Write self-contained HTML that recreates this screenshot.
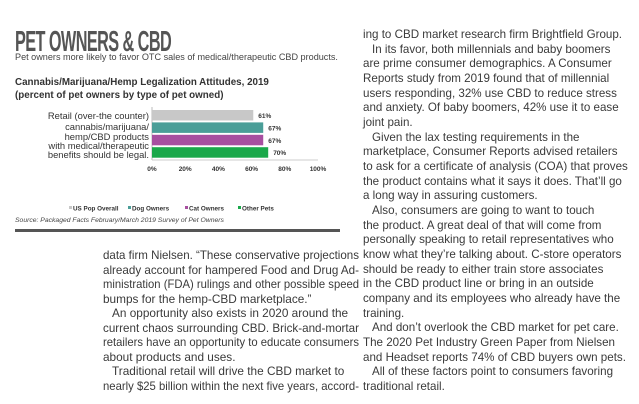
<!DOCTYPE html>
<html><head><meta charset="utf-8"><style>
body{margin:0;width:639px;height:404px;background:#fff;overflow:hidden;position:relative;font-family:"Liberation Sans",sans-serif;color:#333}
.col{position:absolute;white-space:nowrap;color:#3a3a3a}
.col div{width:max-content;transform-origin:left}
.ind{padding-left:9px}
</style></head><body>
<div style="position:absolute;left:15px;top:28px;font-size:29px;line-height:29px;font-weight:bold;color:#555;letter-spacing:-1px;transform:scaleX(0.56);transform-origin:left;white-space:nowrap">PET OWNERS &amp; CBD</div>
<div style="position:absolute;left:15px;top:52px;font-size:9.1px;color:#444;white-space:nowrap">Pet owners more likely to favor OTC sales of medical/therapeutic CBD products.</div>
<svg width="345" height="240" style="position:absolute;left:0;top:0">
<text x="15" y="85" font-size="9.8" font-weight="bold" fill="#333">Cannabis/Marijuana/Hemp Legalization Attitudes, 2019</text>
<text x="15" y="98" font-size="9.8" font-weight="bold" fill="#333">(percent of pet owners by type of pet owned)</text>
<g text-anchor="end" font-size="9.4" fill="#333">
<text x="149" y="119">Retail (over-the counter)</text>
<text x="149" y="130">cannabis/marijuana/</text>
<text x="149" y="140">hemp/CBD products</text>
<text x="149" y="149">with medical/therapeutic</text>
<text x="149" y="158">benefits should be legal.</text>
</g>
<line x1="152" y1="107" x2="152" y2="160" stroke="#bbb"/>
<line x1="152" y1="160" x2="318" y2="160" stroke="#ccc"/>
<g id="bars"></g><g id="ticks"></g>
<g id="legend" font-size="6.3" font-weight="bold" fill="#333"></g>
<text x="15" y="222" font-size="6.8" font-style="italic" fill="#444">Source: Packaged Facts February/March 2019 Survey of Pet Owners</text>
<rect x="15" y="229" width="325" height="3" fill="#555"/>
</svg>
<div class="col" data-w="256" style="left:103px;top:248px;font-size:11.8px;line-height:14.5px">
<div>data firm Nielsen. “These conservative projections</div>
<div>already account for hampered Food and Drug Ad-</div>
<div>ministration (FDA) rulings and other possible speed</div>
<div>bumps for the hemp-CBD marketplace.”</div>
<div class="ind">An opportunity also exists in 2020 around the</div>
<div>current chaos surrounding CBD. Brick-and-mortar</div>
<div>retailers have an opportunity to educate consumers</div>
<div>about products and uses.</div>
<div class="ind">Traditional retail will drive the CBD market to</div>
<div>nearly $25 billion within the next five years, accord-</div>
</div>
<div class="col" data-w="269" style="left:363px;top:28px;font-size:11.6px;line-height:14.67px">
<div>ing to CBD market research firm Brightfield Group.</div>
<div class="ind">In its favor, both millennials and baby boomers</div>
<div>are prime consumer demographics. A Consumer</div>
<div>Reports study from 2019 found that of millennial</div>
<div>users responding, 32% use CBD to reduce stress</div>
<div>and anxiety. Of baby boomers, 42% use it to ease</div>
<div>joint pain.</div>
<div class="ind">Given the lax testing requirements in the</div>
<div>marketplace, Consumer Reports advised retailers</div>
<div>to ask for a certificate of analysis (COA) that proves</div>
<div>the product contains what it says it does. That’ll go</div>
<div>a long way in assuring customers.</div>
<div class="ind">Also, consumers are going to want to touch</div>
<div>the product. A great deal of that will come from</div>
<div>personally speaking to retail representatives who</div>
<div>know what they’re talking about. C-store operators</div>
<div>should be ready to either train store associates</div>
<div>in the CBD product line or bring in an outside</div>
<div>company and its employees who already have the</div>
<div>training.</div>
<div class="ind">And don’t overlook the CBD market for pet care.</div>
<div>The 2020 Pet Industry Green Paper from Nielsen</div>
<div>and Headset reports 74% of CBD buyers own pets.</div>
<div class="ind">All of these factors point to consumers favoring</div>
<div>traditional retail.</div>
</div>
<script>
document.querySelectorAll('.col').forEach(c=>{
 const W=+c.getAttribute('data-w');
 c.querySelectorAll('div').forEach(d=>{
  const w=d.getBoundingClientRect().width;
  if(w>W) d.style.transform='scaleX('+(W/w)+')';
 });
});
const categories=["US Pop Overall","Dog Owners","Cat Owners","Other Pets"];
const values=[61,67,67,70];
const colors=["#c8c8c8","#4a9e98","#a74fa0","#1aa84a"];
const ticks=[0,20,40,60,80,100];
const NS="http://www.w3.org/2000/svg";
const x=v=>152+v*1.66;
const y=i=>110+i*12.4;
const bars=document.getElementById('bars');
values.forEach((v,i)=>{
 const r=document.createElementNS(NS,'rect');
 r.setAttribute('x',x(0));r.setAttribute('y',y(i));r.setAttribute('width',x(v)-x(0));r.setAttribute('height',10.5);r.setAttribute('fill',colors[i]);
 
 
 bars.appendChild(r);
 const t=document.createElementNS(NS,'text');
 t.setAttribute('x',x(v)+5);t.setAttribute('y',y(i)+8);t.setAttribute('font-size','6.5');t.setAttribute('font-weight','bold');t.setAttribute('fill','#333');
 t.textContent=v+'%';
 
 
 bars.appendChild(t);
});
const tg=document.getElementById('ticks');
ticks.forEach(v=>{
 const t=document.createElementNS(NS,'text');
 t.setAttribute('x',x(v));t.setAttribute('y',171);t.setAttribute('font-size','6.5');t.setAttribute('font-weight','bold');t.setAttribute('fill','#333');t.setAttribute('text-anchor','middle');
 t.textContent=v+'%';
 
 
 tg.appendChild(t);
});
const lg=document.getElementById('legend');
const lx=[69,128,185,238];
categories.forEach((c,i)=>{
 const r=document.createElementNS(NS,'rect');
 r.setAttribute('x',lx[i]);r.setAttribute('y',206);r.setAttribute('width',3);r.setAttribute('height',3);r.setAttribute('fill',colors[i]);
 lg.appendChild(r);
 const t=document.createElementNS(NS,'text');
 t.setAttribute('x',lx[i]+4);t.setAttribute('y',210.5);
 t.textContent=c;
 
 
 lg.appendChild(t);
});
</script>
</body></html>
